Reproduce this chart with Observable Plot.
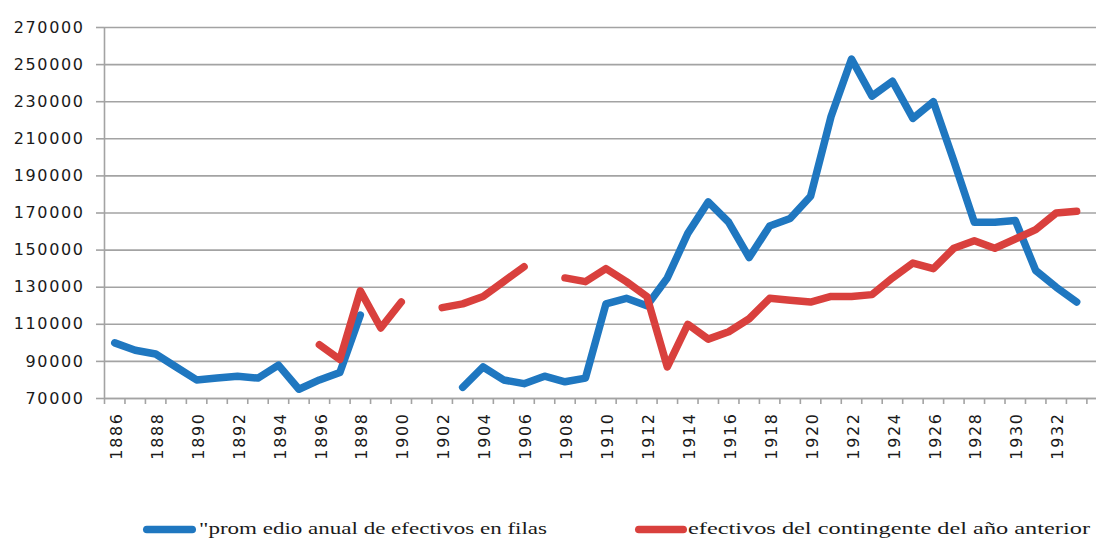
<!DOCTYPE html>
<html>
<head>
<meta charset="utf-8">
<script src="https://cdn.jsdelivr.net/npm/d3@7"></script>
<script src="https://cdn.jsdelivr.net/npm/@observablehq/plot@0.6"></script>
<style>
  html, body { margin: 0; padding: 0; background: #fff; }
  body { width: 1096px; height: 541px; overflow: hidden; }
  #chart svg { display: block; }
  #chart svg g[aria-label="y-axis tick label"] text,
  #chart svg g[aria-label="x-axis tick label"] text { letter-spacing: 1.6px; }
  #legend { display: block; }
</style>
</head>
<body>
<div id="chart"></div>
<svg id="legend" width="1096" height="36"></svg>
<script>
// ---- data ----
const years = [1886, 1887, 1888, 1889, 1890, 1891, 1892, 1893, 1894, 1895,
  1896, 1897, 1898, 1899, 1900, 1901, 1902, 1903, 1904, 1905,
  1906, 1907, 1908, 1909, 1910, 1911, 1912, 1913, 1914, 1915,
  1916, 1917, 1918, 1919, 1920, 1921, 1922, 1923, 1924, 1925,
  1926, 1927, 1928, 1929, 1930, 1931, 1932, 1933];

const promedioAnual = [100000, 96000, 94000, 87000, 80000, 81000, 82000, 81000, 88000, 75000,
  80000, 84000, 115000, null, null, null, null, 76000, 87000, 80000,
  78000, 82000, 79000, 81000, 121000, 124000, 120000, 135000, 159000, 176000,
  165000, 146000, 163000, 167000, 179000, 222000, 253000, 233000, 241000, 221000,
  230000, 198000, 165000, 165000, 166000, 139000, 130000, 122000];

const contingente = [null, null, null, null, null, null, null, null, null, null,
  99000, 91000, 128000, 108000, 122000, null, 119000, 121000, 125000, 133000,
  141000, null, 135000, 133000, 140000, 133000, 125000, 87000, 110000, 102000,
  106000, 113000, 124000, 123000, 122000, 125000, 125000, 126000, 135000, 143000,
  140000, 151000, 155000, 151000, 156000, 161000, 170000, 171000];

const yTicks = [70000, 90000, 110000, 130000, 150000, 170000, 190000, 210000, 230000, 250000, 270000];
const xLabelYears = [1886, 1888, 1890, 1892, 1894, 1896, 1898, 1900, 1902, 1904, 1906, 1908,
  1910, 1912, 1914, 1916, 1918, 1920, 1922, 1924, 1926, 1928, 1930, 1932];

const seriesNames = ['"prom edio anual de efectivos en filas', 'efectivos del contingente del año anterior'];
const seriesColors = ["#1f77c0", "#d9403d"];

// ---- chart ----
const rowsA = years.map((yr, i) => ({year: yr, value: promedioAnual[i]}));
const rowsB = years.map((yr, i) => ({year: yr, value: contingente[i]}));
const boundaries = years.map(y => y - 0.5).concat([years[years.length - 1] + 0.5]);
const gridCol = "#a3a3a3";
const font = "DejaVu Sans, Verdana, sans-serif";

const chart = Plot.plot({
  width: 1096,
  height: 505,
  marginLeft: 104,
  marginRight: 0,
  marginTop: 27,
  marginBottom: 107,
  style: {fontFamily: font, background: "#fff", color: "#1a1a1a"},
  x: {type: "linear", domain: [1885.5, 1933.97]},
  y: {domain: [70000, 270000]},
  marks: [
    Plot.gridY(yTicks, {stroke: gridCol, strokeOpacity: 1, strokeWidth: 1.6}),
    Plot.ruleX([1885.5], {stroke: gridCol, strokeWidth: 1.6}),
    Plot.ruleY([70000], {stroke: gridCol, strokeWidth: 1.6}),
    Plot.axisY(yTicks, {
      tickSize: 8, tickPadding: 12, stroke: gridCol, strokeWidth: 1.6,
      fontSize: 16, fill: "#1a1a1a", tickFormat: d => String(d), label: null
    }),
    Plot.axisX(boundaries, {
      tickSize: 6, stroke: gridCol, strokeWidth: 1.6, tickFormat: () => "", label: null
    }),
    Plot.axisX(xLabelYears, {
      tickSize: 0, tickPadding: 14, tickRotate: -90, fontSize: 16, fill: "#1a1a1a",
      dx: 2, tickFormat: d => String(d), label: null
    }),
    Plot.line(rowsA, {x: "year", y: "value", stroke: seriesColors[0], strokeWidth: 7.5,
      strokeLinecap: "round", strokeLinejoin: "round"}),
    Plot.line(rowsB, {x: "year", y: "value", stroke: seriesColors[1], strokeWidth: 7.5,
      strokeLinecap: "round", strokeLinejoin: "round"})
  ]
});
document.getElementById("chart").appendChild(chart);

// ---- legend (below the chart svg) ----
const legend = d3.select("#legend");
const legendItems = [
  {name: seriesNames[0], color: seriesColors[0], sx: 143, sw: 53, tx: 199, tw: 348},
  {name: seriesNames[1], color: seriesColors[1], sx: 635, sw: 52, tx: 688, tw: 402}
];
for (const it of legendItems) {
  legend.append("rect")
    .attr("x", it.sx).attr("y", 20.7).attr("width", it.sw).attr("height", 7.6)
    .attr("rx", 3.8).attr("fill", it.color);
  legend.append("text")
    .attr("x", it.tx).attr("y", 29)
    .attr("font-family", "Liberation Serif, Times New Roman, serif")
    .attr("font-size", 16.5)
    .attr("fill", "#1a1a1a")
    .attr("textLength", it.tw)
    .attr("lengthAdjust", "spacingAndGlyphs")
    .text(it.name);
}
</script>
</body>
</html>
